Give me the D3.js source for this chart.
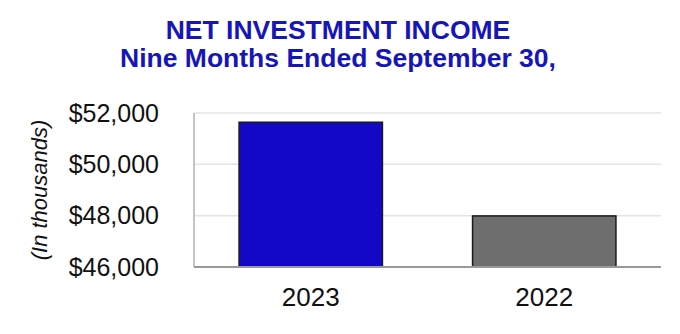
<!DOCTYPE html>
<html lang="en">
<head>
    <meta charset="UTF-8">
    <title>Net Investment Income</title>
    <script src="https://d3js.org/d3.v7.min.js"></script>
    <style>
        body {
            margin: 0;
            background-color: #fff;
            font-family: "Liberation Sans", Arial, sans-serif;
        }
        .title {
            font-size: 26.5px;
            font-weight: bold;
            fill: #1616b8;
            text-anchor: middle;
        }
        .tick-label {
            font-size: 25px;
            fill: #111;
        }
    </style>
</head>
<body>
    <svg id="chart" width="680" height="334"></svg>
    <script>
        // Data
        const categories = ["2023", "2022"];
        const values = [51640, 47990];
        const barColors = ["#1208c6", "#6e6e6e"];
        const yTicks = [46000, 48000, 50000, 52000];
        const titleLines = ["NET INVESTMENT INCOME", "Nine Months Ended September 30,"];

        const width = 680;
        const height = 334;
        const margin = { top: 113, right: 19, bottom: 67, left: 194 };

        const svg = d3.select("#chart");

        // Scales
        const x = d3.scaleBand()
            .domain(categories)
            .range([margin.left, width - margin.right])
            .paddingInner(0.386)
            .paddingOuter(0.193);

        const y = d3.scaleLinear()
            .domain([46000, 52000])
            .range([height - margin.bottom, margin.top]);

        // Title
        svg.selectAll(".title")
            .data(titleLines)
            .enter()
            .append("text")
            .attr("class", "title")
            .attr("x", 338)
            .attr("y", (d, i) => 39 + i * 28)
            .text(d => d);

        // Gridlines
        svg.append("g")
            .selectAll("line")
            .data(yTicks.slice(1))
            .enter()
            .append("line")
            .attr("x1", margin.left)
            .attr("x2", width - margin.right)
            .attr("y1", d => y(d))
            .attr("y2", d => y(d))
            .attr("stroke", "#e4e4e4")
            .attr("stroke-width", 1.5);

        // Left axis line
        svg.append("line")
            .attr("x1", margin.left)
            .attr("x2", margin.left)
            .attr("y1", y(52000))
            .attr("y2", y(46000))
            .attr("stroke", "#b0b0b0")
            .attr("stroke-width", 1.5);

        // Y axis labels
        const yAxis = d3.axisLeft(y)
            .tickValues(yTicks)
            .tickSize(0)
            .tickPadding(35)
            .tickFormat(d => "$" + d3.format(",")(d));

        const yG = svg.append("g")
            .attr("transform", `translate(${margin.left},0)`)
            .call(yAxis);
        yG.select(".domain").remove();
        yG.selectAll("text")
            .attr("class", "tick-label")
            .attr("font-family", null)
            .attr("font-size", null);

        // Bars
        svg.selectAll(".bar")
            .data(values)
            .enter()
            .append("rect")
            .attr("class", "bar")
            .attr("x", (d, i) => x(categories[i]))
            .attr("y", d => y(d))
            .attr("width", x.bandwidth())
            .attr("height", d => y(46000) - y(d))
            .attr("fill", (d, i) => barColors[i])
            .attr("stroke", "#1a1a1a")
            .attr("stroke-width", 1.5);

        // Baseline
        svg.append("line")
            .attr("x1", margin.left)
            .attr("x2", width - margin.right)
            .attr("y1", y(46000))
            .attr("y2", y(46000))
            .attr("stroke", "#999")
            .attr("stroke-width", 2);

        // X axis labels
        const xAxis = d3.axisBottom(x)
            .tickSize(0)
            .tickPadding(21);

        const xG = svg.append("g")
            .attr("transform", `translate(0,${y(46000)})`)
            .call(xAxis);
        xG.select(".domain").remove();
        xG.selectAll("text")
            .attr("class", "tick-label")
            .attr("font-family", null)
            .attr("font-size", null)
            .style("font-size", "26px");

        // Y axis title
        svg.append("text")
            .attr("transform", "translate(47,190) rotate(-90)")
            .attr("text-anchor", "middle")
            .style("font-size", "22px")
            .style("font-style", "italic")
            .attr("fill", "#111")
            .text("(In thousands)");
    </script>
</body>
</html>
